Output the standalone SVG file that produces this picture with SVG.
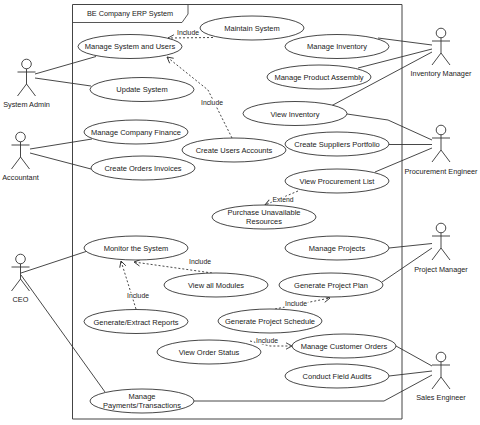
<svg xmlns="http://www.w3.org/2000/svg" width="480" height="425" viewBox="0 0 480 425">
<style>
text{font-family:"Liberation Sans",Arial,sans-serif;font-size:7.500px;fill:#222;text-anchor:middle}
.l{font-size:6.800px;paint-order:stroke;stroke:#fff;stroke-width:2.500px}
.n{font-size:7.300px}
ellipse{fill:#fff;stroke:#333;stroke-width:.9}
.c line,.c polyline{fill:none;stroke:#333;stroke-width:.9}
.c .d{stroke-dasharray:2 2}
.h{fill:#fff;stroke:#333;stroke-width:.9}
.s{fill:none;stroke:#333;stroke-width:.9}
</style>
<defs>
<marker id="o" markerWidth="8" markerHeight="8" refX="7" refY="4" orient="auto" markerUnits="userSpaceOnUse"><path d="M1 .8L7 4L1 7.2" fill="none" stroke="#333" stroke-width=".9"/></marker>
<g id="st"><circle class="h" cx="0" cy="0" r="4.8"/><path class="s" d="M-9 8H9M0 4.8V20M0 20L-9 32M0 20L9 32"/></g>
</defs>
<rect width="480" height="425" fill="#fff"/>
<g id="frame">
<path d="M72.500 4.500H402V419H72.500Z" fill="#fff" stroke="#444" stroke-width="1"/>
<path d="M72.500 22.500H182L188 14V4.500" fill="none" stroke="#444" stroke-width=".9"/>
<text x="130" y="16" style="font-size:7.300px">BE Company ERP System</text>
</g>
<g id="connectors" class="c">
<line x1="35" y1="74" x2="96" y2="56.500"/><line x1="35" y1="78" x2="91" y2="86"/>
<line x1="30" y1="149" x2="92" y2="139"/><line x1="30" y1="153" x2="91" y2="169"/>
<line x1="21" y1="273" x2="86" y2="251.500"/><line x1="21" y1="275" x2="105" y2="392"/>
<line x1="378" y1="38" x2="432" y2="45"/><line x1="358" y1="68" x2="432" y2="49"/><line x1="332" y1="105.500" x2="432" y2="52"/>
<polyline points="347,114 388,120 432,140"/><line x1="389" y1="144.500" x2="432" y2="144.500"/><line x1="375" y1="172" x2="432" y2="148"/>
<line x1="389" y1="248" x2="432" y2="243.500"/><line x1="382" y1="282" x2="432" y2="248"/>
<line x1="396" y1="346" x2="432" y2="366"/><line x1="389" y1="376" x2="432" y2="371"/><polyline points="194,401 384,401 432,375"/>
<line class="d" x1="213" y1="37.500" x2="168" y2="38" marker-end="url(#o)"/>
<polyline class="d" points="232,138 208,90 167,57" marker-end="url(#o)"/>
<line class="d" x1="298" y1="191" x2="265" y2="205" marker-end="url(#o)"/>
<line class="d" x1="212" y1="273" x2="134" y2="262" marker-end="url(#o)"/>
<line class="d" x1="136" y1="309" x2="121" y2="261" marker-end="url(#o)"/>
<line class="d" x1="275" y1="309" x2="330" y2="298" marker-end="url(#o)"/>
<polyline class="d" points="250,341 270,346 292,346" marker-end="url(#o)"/>
</g>
<g id="labels">
<text class="l" x="188" y="35">Include</text>
<text class="l" x="212" y="105">Include</text>
<text class="l" x="283" y="202">Extend</text>
<text class="l" x="200" y="264">Include</text>
<text class="l" x="138" y="298">Include</text>
<text class="l" x="296" y="306">Include</text>
<text class="l" x="267" y="343">Include</text>
</g>
<g id="uc1"><ellipse cx="130" cy="46.500" rx="52" ry="12"/><text x="130" y="49">Manage System and Users</text></g>
<g id="uc2"><ellipse cx="252" cy="28" rx="52" ry="12"/><text x="252" y="31">Maintain System</text></g>
<g id="uc3"><ellipse cx="142" cy="89.500" rx="52" ry="12"/><text x="142" y="92">Update System</text></g>
<g id="uc4"><ellipse cx="136" cy="132" rx="52" ry="12"/><text x="136" y="135">Manage Company Finance</text></g>
<g id="uc5"><ellipse cx="143" cy="168" rx="52" ry="12"/><text x="143" y="171">Create Orders Invoices</text></g>
<g id="uc6"><ellipse cx="234" cy="150" rx="52" ry="12"/><text x="234" y="153">Create Users Accounts</text></g>
<g id="uc7"><ellipse cx="337" cy="46.500" rx="52" ry="12"/><text x="337" y="49">Manage Inventory</text></g>
<g id="uc8"><ellipse cx="319" cy="77" rx="52" ry="12"/><text x="319" y="80">Manage Product Assembly</text></g>
<g id="uc9"><ellipse cx="295" cy="113.500" rx="52" ry="12"/><text x="295" y="116.500">View Inventory</text></g>
<g id="uc10"><ellipse cx="337" cy="144" rx="52" ry="12"/><text x="337" y="147">Create Suppliers Portfolio</text></g>
<g id="uc11"><ellipse cx="337" cy="181" rx="52" ry="12"/><text x="337" y="184">View Procurement List</text></g>
<g id="uc12"><ellipse cx="264" cy="217" rx="52" ry="12"/><text x="264" y="214.500">Purchase Unavailable</text><text x="264" y="224">Resources</text></g>
<g id="uc13"><ellipse cx="136" cy="248" rx="52" ry="12"/><text x="136" y="251">Monitor the System</text></g>
<g id="uc14"><ellipse cx="216" cy="285" rx="52" ry="12"/><text x="216" y="288">View all Modules</text></g>
<g id="uc15"><ellipse cx="136" cy="321.500" rx="52" ry="12"/><text x="136" y="324.500">Generate/Extract Reports</text></g>
<g id="uc16"><ellipse cx="337" cy="248" rx="52" ry="12"/><text x="337" y="251">Manage Projects</text></g>
<g id="uc17"><ellipse cx="331" cy="285" rx="52" ry="12"/><text x="331" y="288">Generate Project Plan</text></g>
<g id="uc18"><ellipse cx="270" cy="321" rx="52" ry="12"/><text x="270" y="324">Generate Project Schedule</text></g>
<g id="uc19"><ellipse cx="209" cy="352" rx="52" ry="12"/><text x="209" y="355">View Order Status</text></g>
<g id="uc20"><ellipse cx="344" cy="346" rx="52" ry="12"/><text x="344" y="349">Manage Customer Orders</text></g>
<g id="uc21"><ellipse cx="337" cy="376" rx="52" ry="12"/><text x="337" y="379">Conduct Field Audits</text></g>
<g id="uc22"><ellipse cx="142" cy="401" rx="52" ry="12"/><text x="142" y="399">Manage</text><text x="142" y="408">Payments/Transactions</text></g>
<g id="a1"><use href="#st" x="26.500" y="64"/><text class="n" x="26.500" y="107">System Admin</text></g>
<g id="a2"><use href="#st" x="20.500" y="137"/><text class="n" x="20.500" y="180">Accountant</text></g>
<g id="a3"><use href="#st" x="20.500" y="259"/><text class="n" x="20.500" y="302">CEO</text></g>
<g id="a4"><use href="#st" x="441" y="33"/><text class="n" x="441" y="76">Inventory Manager</text></g>
<g id="a5"><use href="#st" x="441" y="130"/><text class="n" x="441" y="174">Procurement Engineer</text></g>
<g id="a6"><use href="#st" x="441" y="228"/><text class="n" x="441" y="272">Project Manager</text></g>
<g id="a7"><use href="#st" x="441" y="357"/><text class="n" x="441" y="400">Sales Engineer</text></g>
</svg>
